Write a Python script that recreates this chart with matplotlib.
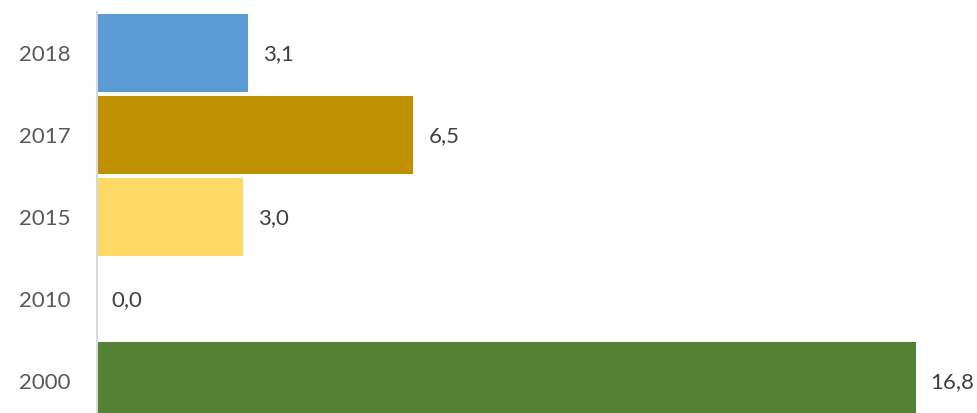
import numpy as np
import matplotlib.pyplot as plt

plt.rcParams['font.family'] = ['Lato', 'DejaVu Sans']

years = ['2000', '2010', '2015', '2017', '2018']
values = [16.8, 0.0, 3.0, 6.5, 3.1]
colors = ['#548235', '#A5A5A5', '#FFD966', '#BF9000', '#5B9BD5']

fig = plt.figure(figsize=(9.77, 4.13), dpi=100)
# axes runs a little past the bottom edge, like the cropped original
ax = fig.add_axes([96.5/977, -9/413, 877.5/977, 410/413])

pos = np.arange(len(years))
ax.barh(pos, values, height=0.951, color=colors)

for p, v in zip(pos, values):
    ax.annotate(f'{v:.1f}'.replace('.', ','), (v, p), xytext=(15, -1),
                textcoords='offset pixels', va='center', ha='left',
                fontsize=16, color='#404040')

ax.set_yticks(pos)
ax.set_yticklabels(years, fontsize=16, color='#595959')
ax.tick_params(axis='y', length=0, pad=18.5)
ax.set_xticks([])
ax.set_xlim(0, 18)
ax.set_ylim(-0.5, 4.5)

for s in ['top', 'right', 'bottom']:
    ax.spines[s].set_visible(False)
ax.spines['left'].set_color('#D9D9D9')
ax.spines['left'].set_linewidth(1.5)

fig.savefig('out.png', dpi=100)
